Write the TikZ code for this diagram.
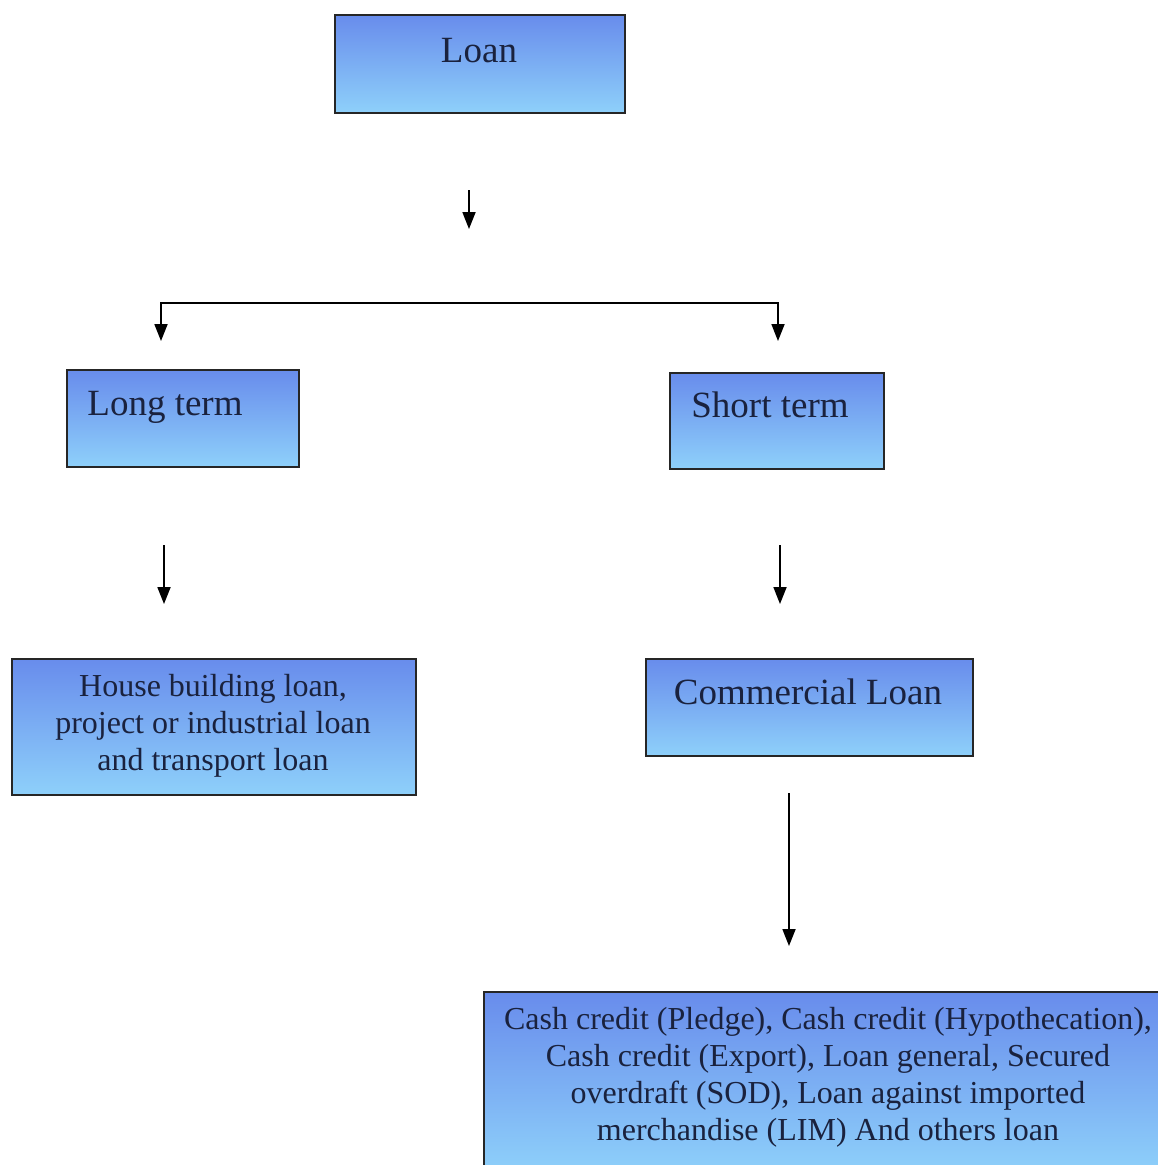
\documentclass[tikz,border=0pt]{standalone}
\usepackage{fontspec}
\setmainfont{Liberation Serif}
\usetikzlibrary{arrows.meta}
\definecolor{boxtop}{RGB}{104,140,236}
\definecolor{boxbot}{RGB}{142,208,250}
\definecolor{ink}{RGB}{26,34,62}
\begin{document}
\begin{tikzpicture}[x=1pt,y=-1pt,
  panel/.style={draw=black!85, line width=1.6pt, top color=boxtop, bottom color=boxbot,
                anchor=north west, inner sep=0pt},
  bigtxt/.style={text=ink, font=\fontsize{37}{40}\selectfont, inner sep=0pt, anchor=base},
  smalltxt/.style={text=ink, font=\fontsize{32}{37}\selectfont, align=center, inner sep=0pt},
  tip/.tip={Triangle[length=17pt,width=13pt]},
  link/.style={line width=1.8pt, -tip},
  fork/.style={line width=1.8pt, tip-tip}]
\useasboundingbox (0,0) rectangle (1157,1165);

% boxes
\node[panel, minimum width=290pt, minimum height=98pt] (loan) at (334,14) {};
\node[panel, minimum width=232pt, minimum height=97pt] (long) at (66,369) {};
\node[panel, minimum width=214pt, minimum height=96pt] (short) at (669,372) {};
\node[panel, minimum width=404pt, minimum height=136pt] (house) at (11,658) {};
\node[panel, minimum width=327pt, minimum height=97pt] (comm) at (645,658) {};
\node[panel, minimum width=690pt, minimum height=180pt] (cash) at (483,991) {};

% labels
\node[bigtxt] (loantxt) at (479,62) {Loan};
\node[bigtxt] (longtxt) at (165,415) {Long term};
\node[bigtxt] (shorttxt) at (770,417) {Short term};
\node[bigtxt] (commtxt) at (808,704) {Commercial Loan};
\node[smalltxt] (housetxt) at (213,726) {House building loan,\\project or industrial loan\\and transport loan};
\node[smalltxt] (cashtxt) at (828,1077) {Cash credit (Pledge), Cash credit (Hypothecation),\\Cash credit (Export), Loan general, Secured\\overdraft (SOD), Loan against imported\\merchandise (LIM) And others loan};

% connectors
\coordinate (a1s) at (469,190);
\coordinate (a1e) at (469,229);
\draw[link] (a1s) -- (a1e);

\coordinate (fl) at (161,341);
\coordinate (fr) at (778,341);
\draw[fork] (fl) -- ++(0,-38) -| (fr);

\coordinate (a2s) at (164,545);
\coordinate (a2e) at (164,604);
\draw[link] (a2s) -- (a2e);

\coordinate (a3s) at (780,545);
\coordinate (a3e) at (780,604);
\draw[link] (a3s) -- (a3e);

\coordinate (a4s) at (789,793);
\coordinate (a4e) at (789,946);
\draw[link] (a4s) -- (a4e);
\end{tikzpicture}
\end{document}
